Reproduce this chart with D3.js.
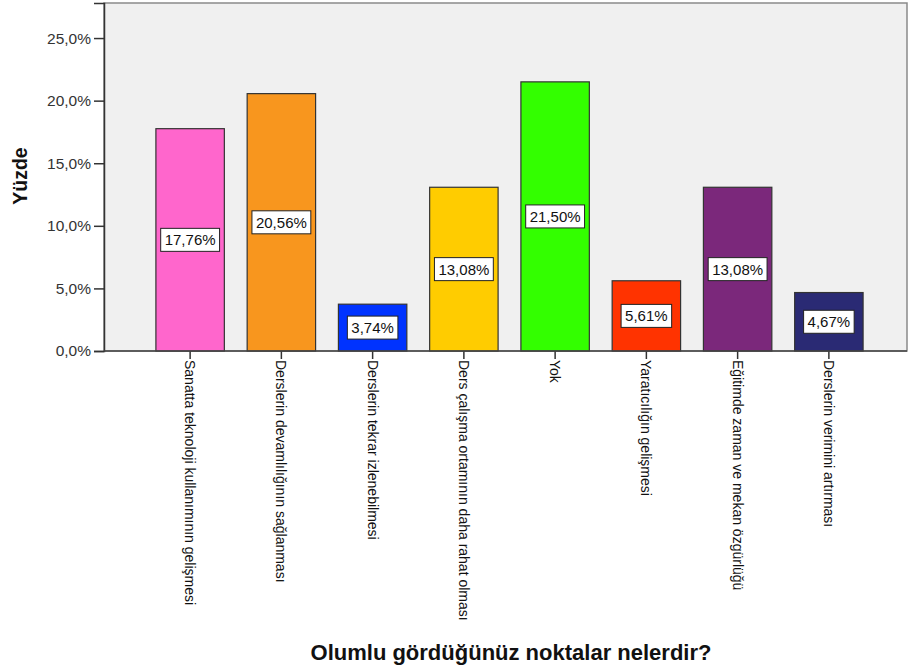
<!DOCTYPE html>
<html>
<head>
<meta charset="utf-8">
<script src="https://cdn.jsdelivr.net/npm/d3@7"></script>
<style>
  body { margin: 0; background: #fff; }
  text { font-family: "Liberation Sans", Arial, sans-serif; }
</style>
</head>
<body>
<svg id="chartId" width="908" height="671"></svg>
<script>
const categories = [
  "Sanatta teknoloji kullanımının gelişmesi",
  "Derslerin devamlılığının sağlanması",
  "Derslerin tekrar izlenebilmesi",
  "Ders çalışma ortamının daha rahat olması",
  "Yok",
  "Yaratıcılığın gelişmesi",
  "Eğitimde zaman ve mekan özgürlüğü",
  "Derslerin verimini artırması"
];
const values = [17.76, 20.56, 3.74, 13.08, 21.50, 5.61, 13.08, 4.67];
const colors = ["#ff66cc", "#f8961e", "#0033ff", "#ffcc00", "#33ff00", "#ff3300", "#7b287b", "#2a2a74"];
const yTicks = [0, 5, 10, 15, 20, 25];

const svg = d3.select("#chartId");
const plot = { left: 104, top: 3, right: 907, bottom: 351 };

const yScale = d3.scaleLinear().domain([0, 27.8]).range([plot.bottom, plot.top]);
const xScale = d3.scaleBand()
  .domain(categories)
  .range([plot.left + 40.5, plot.right - 32.5])
  .paddingInner(0.25)
  .paddingOuter(0.125);

const fmt = (v) => d3.format(".1f")(v).replace(".", ",") + "%";
const fmt2 = (v) => d3.format(".2f")(v).replace(".", ",") + "%";

// plot background
svg.append("rect")
  .attr("x", plot.left).attr("y", plot.top)
  .attr("width", plot.right - plot.left).attr("height", plot.bottom - plot.top)
  .attr("fill", "#f0f0f0").attr("stroke", "#8a8a8a").attr("stroke-width", 1.5);

// bars
svg.selectAll("rect.bar")
  .data(values)
  .enter()
  .append("rect")
  .attr("class", "bar")
  .attr("x", (d, i) => xScale(categories[i]))
  .attr("y", (d) => yScale(d))
  .attr("width", xScale.bandwidth())
  .attr("height", (d) => yScale(0) - yScale(d))
  .attr("fill", (d, i) => colors[i])
  .attr("stroke", "#333")
  .attr("stroke-width", 1.2);

// y axis
const yAxis = d3.axisLeft(yScale).tickValues(yTicks).tickFormat(fmt).tickSize(10).tickPadding(3);
const yAxisG = svg.append("g").attr("transform", `translate(${plot.left},0)`).call(yAxis);
yAxisG.select(".domain").attr("stroke", "#333").attr("stroke-width", 1.5);
yAxisG.selectAll(".tick line").attr("stroke", "#333").attr("stroke-width", 1.5);
yAxisG.selectAll(".tick text")
  .attr("font-size", "15.5px")
  .attr("fill", "#333")
  .style("font-family", "'Liberation Sans', Arial, sans-serif");

// x axis
const xAxis = d3.axisBottom(xScale).tickSize(8).tickSizeOuter(0).tickPadding(0);
const xAxisG = svg.append("g").attr("transform", `translate(0,${plot.bottom})`).call(xAxis);
xAxisG.select(".domain").remove();
xAxisG.selectAll(".tick line").attr("stroke", "#333").attr("stroke-width", 1.5);
xAxisG.selectAll(".tick text")
  .attr("transform", "rotate(90)")
  .attr("text-anchor", "start")
  .attr("x", 9)
  .attr("y", 0)
  .attr("dy", "0.35em")
  .attr("fill", "#111")
  .attr("font-size", "14px")
  .style("font-family", "'Liberation Sans', Arial, sans-serif");

svg.append("line")
  .attr("x1", plot.left).attr("x2", plot.right)
  .attr("y1", plot.bottom).attr("y2", plot.bottom)
  .attr("stroke", "#444").attr("stroke-width", 1.5);

// value labels
const labels = svg.selectAll("g.vlabel")
  .data(values)
  .enter()
  .append("g")
  .attr("class", "vlabel")
  .attr("transform", (d, i) =>
    `translate(${xScale(categories[i]) + xScale.bandwidth() / 2},${(yScale(d) + yScale(0)) / 2})`);

labels.append("text")
  .attr("text-anchor", "middle")
  .attr("dy", "0.36em")
  .attr("font-size", "15px")
  .attr("fill", "#111")
  .text((d) => fmt2(d))
  .each(function () {
    const b = this.getBBox();
    d3.select(this.parentNode).insert("rect", "text")
      .attr("x", b.x - 4).attr("y", -11.5)
      .attr("width", b.width + 8).attr("height", 23)
      .attr("fill", "#fff").attr("stroke", "#222").attr("stroke-width", 1);
  });

// axis titles
svg.append("text")
  .attr("transform", `translate(27,176) rotate(-90)`)
  .attr("text-anchor", "middle")
  .attr("font-size", "19.5px")
  .attr("font-weight", "bold")
  .attr("fill", "#111")
  .text("Yüzde");

svg.append("text")
  .attr("x", 511)
  .attr("y", 660)
  .attr("text-anchor", "middle")
  .attr("font-size", "22px")
  .attr("font-weight", "bold")
  .attr("fill", "#111")
  .text("Olumlu gördüğünüz noktalar nelerdir?");
</script>
</body>
</html>
